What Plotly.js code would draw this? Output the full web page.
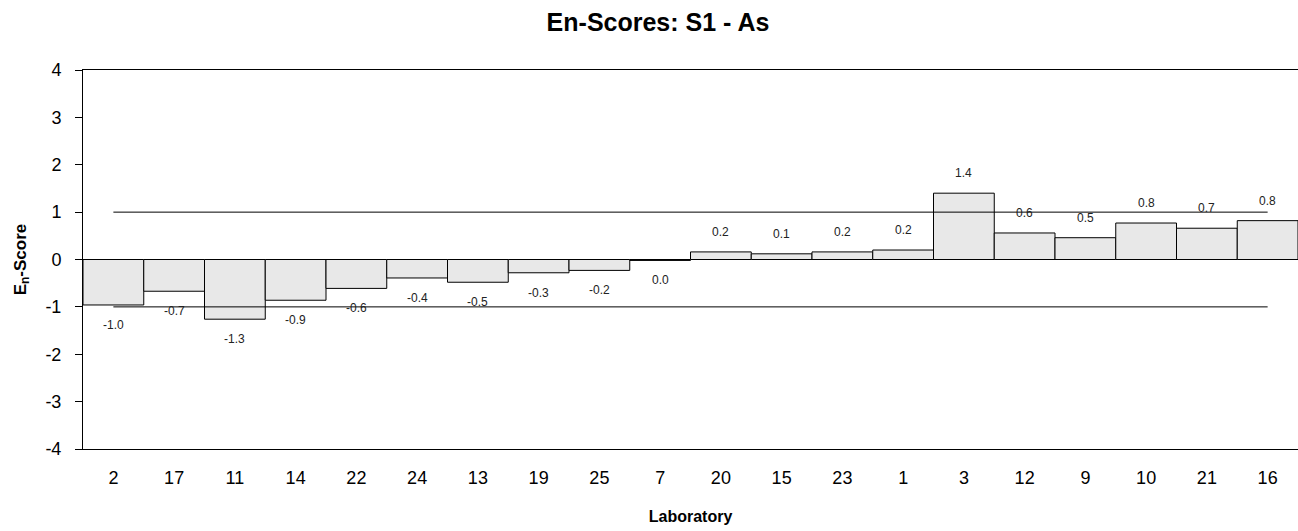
<!DOCTYPE html>
<html>
<head>
<meta charset="utf-8">
<script src="https://cdn.plot.ly/plotly-3.0.1.min.js"></script>
<style>
  html, body { margin: 0; padding: 0; background: #ffffff; }
  #chart { width: 1298px; height: 531px; }
</style>
</head>
<body>
<div id="chart"></div>
<script>
// Laboratories in plotted order
const laboratories = ['2','17','11','14','22','24','13','19','25','7','20','15','23','1','3','12','9','10','21','16'];
// En-scores
const enScores = [-0.96,-0.67,-1.26,-0.86,-0.61,-0.39,-0.48,-0.28,-0.23,-0.02,0.16,0.12,0.16,0.20,1.40,0.56,0.46,0.77,0.66,0.82];
// Value labels printed next to the bars
const scoreLabels = ['-1.0','-0.7','-1.3','-0.9','-0.6','-0.4','-0.5','-0.3','-0.2','0.0','0.2','0.1','0.2','0.2','1.4','0.6','0.5','0.8','0.7','0.8'];
// Acceptance limits
const upperLimit = 1;
const lowerLimit = -1;
// Y-axis ticks
const yTicks = [-4,-3,-2,-1,0,1,2,3,4];

const FONT = 'Liberation Sans, Arial, sans-serif';

const first = laboratories[0];
const last = laboratories[laboratories.length - 1];

const traces = [
  {
    type: 'bar',
    x: laboratories,
    y: enScores,
    marker: { color: '#e8e8e8', line: { color: '#000000', width: 1 } },
    hoverinfo: 'x+y',
    showlegend: false
  },
  {
    type: 'scatter', mode: 'lines',
    x: [first, last], y: [upperLimit, upperLimit],
    line: { color: '#000000', width: 1 },
    showlegend: false, hoverinfo: 'skip'
  },
  {
    type: 'scatter', mode: 'lines',
    x: [first, last], y: [lowerLimit, lowerLimit],
    line: { color: '#000000', width: 1 },
    showlegend: false, hoverinfo: 'skip'
  }
];

// On a category axis annotations are placed by category index
const annotations = laboratories.map((lab, i) => ({
  x: i, y: enScores[i], xref: 'x', yref: 'y',
  text: scoreLabels[i],
  showarrow: false,
  yshift: enScores[i] >= 0 ? 20 : -20,
  font: { family: FONT, size: 12, color: '#222222' }
}));

const layout = {
  width: 1298, height: 531,
  margin: { l: 83, r: 0, t: 70, b: 82 },
  paper_bgcolor: '#ffffff', plot_bgcolor: '#ffffff',
  font: { family: FONT, color: '#000000' },
  title: {
    text: 'En-Scores: S1 - As',
    font: { family: FONT, size: 25, weight: 'bold', color: '#000000' },
    x: 658 / 1298, xanchor: 'center', xref: 'container',
    y: 1 - 22 / 531, yanchor: 'middle', yref: 'container'
  },
  bargap: 0,
  xaxis: {
    type: 'category',
    range: [-0.5, laboratories.length - 0.5],
    showline: true, linecolor: '#000000', linewidth: 1, mirror: true,
    showgrid: false, zeroline: false,
    ticks: '', ticklabelstandoff: 12,
    tickfont: { family: FONT, size: 18, color: '#000000' },
    title: {
      text: 'Laboratory',
      font: { family: FONT, size: 16, weight: 'bold', color: '#000000' },
      standoff: 24
    },
    fixedrange: true
  },
  yaxis: {
    range: [-4, 4],
    tickvals: yTicks,
    ticktext: yTicks.map(String),
    showline: true, linecolor: '#000000', linewidth: 1,
    showgrid: false, zeroline: false,
    ticks: 'outside', ticklen: 7, tickcolor: '#000000', tickwidth: 1,
    ticklabelstandoff: 10,
    tickfont: { family: FONT, size: 18, color: '#000000' },
    title: {
      text: 'E<sub>n</sub>-Score',
      font: { family: FONT, size: 17, weight: 'bold', color: '#000000' },
      standoff: 14
    },
    fixedrange: true
  },
  annotations: annotations
};

Plotly.newPlot('chart', traces, layout, { displayModeBar: false, staticPlot: true });
</script>
</body>
</html>
